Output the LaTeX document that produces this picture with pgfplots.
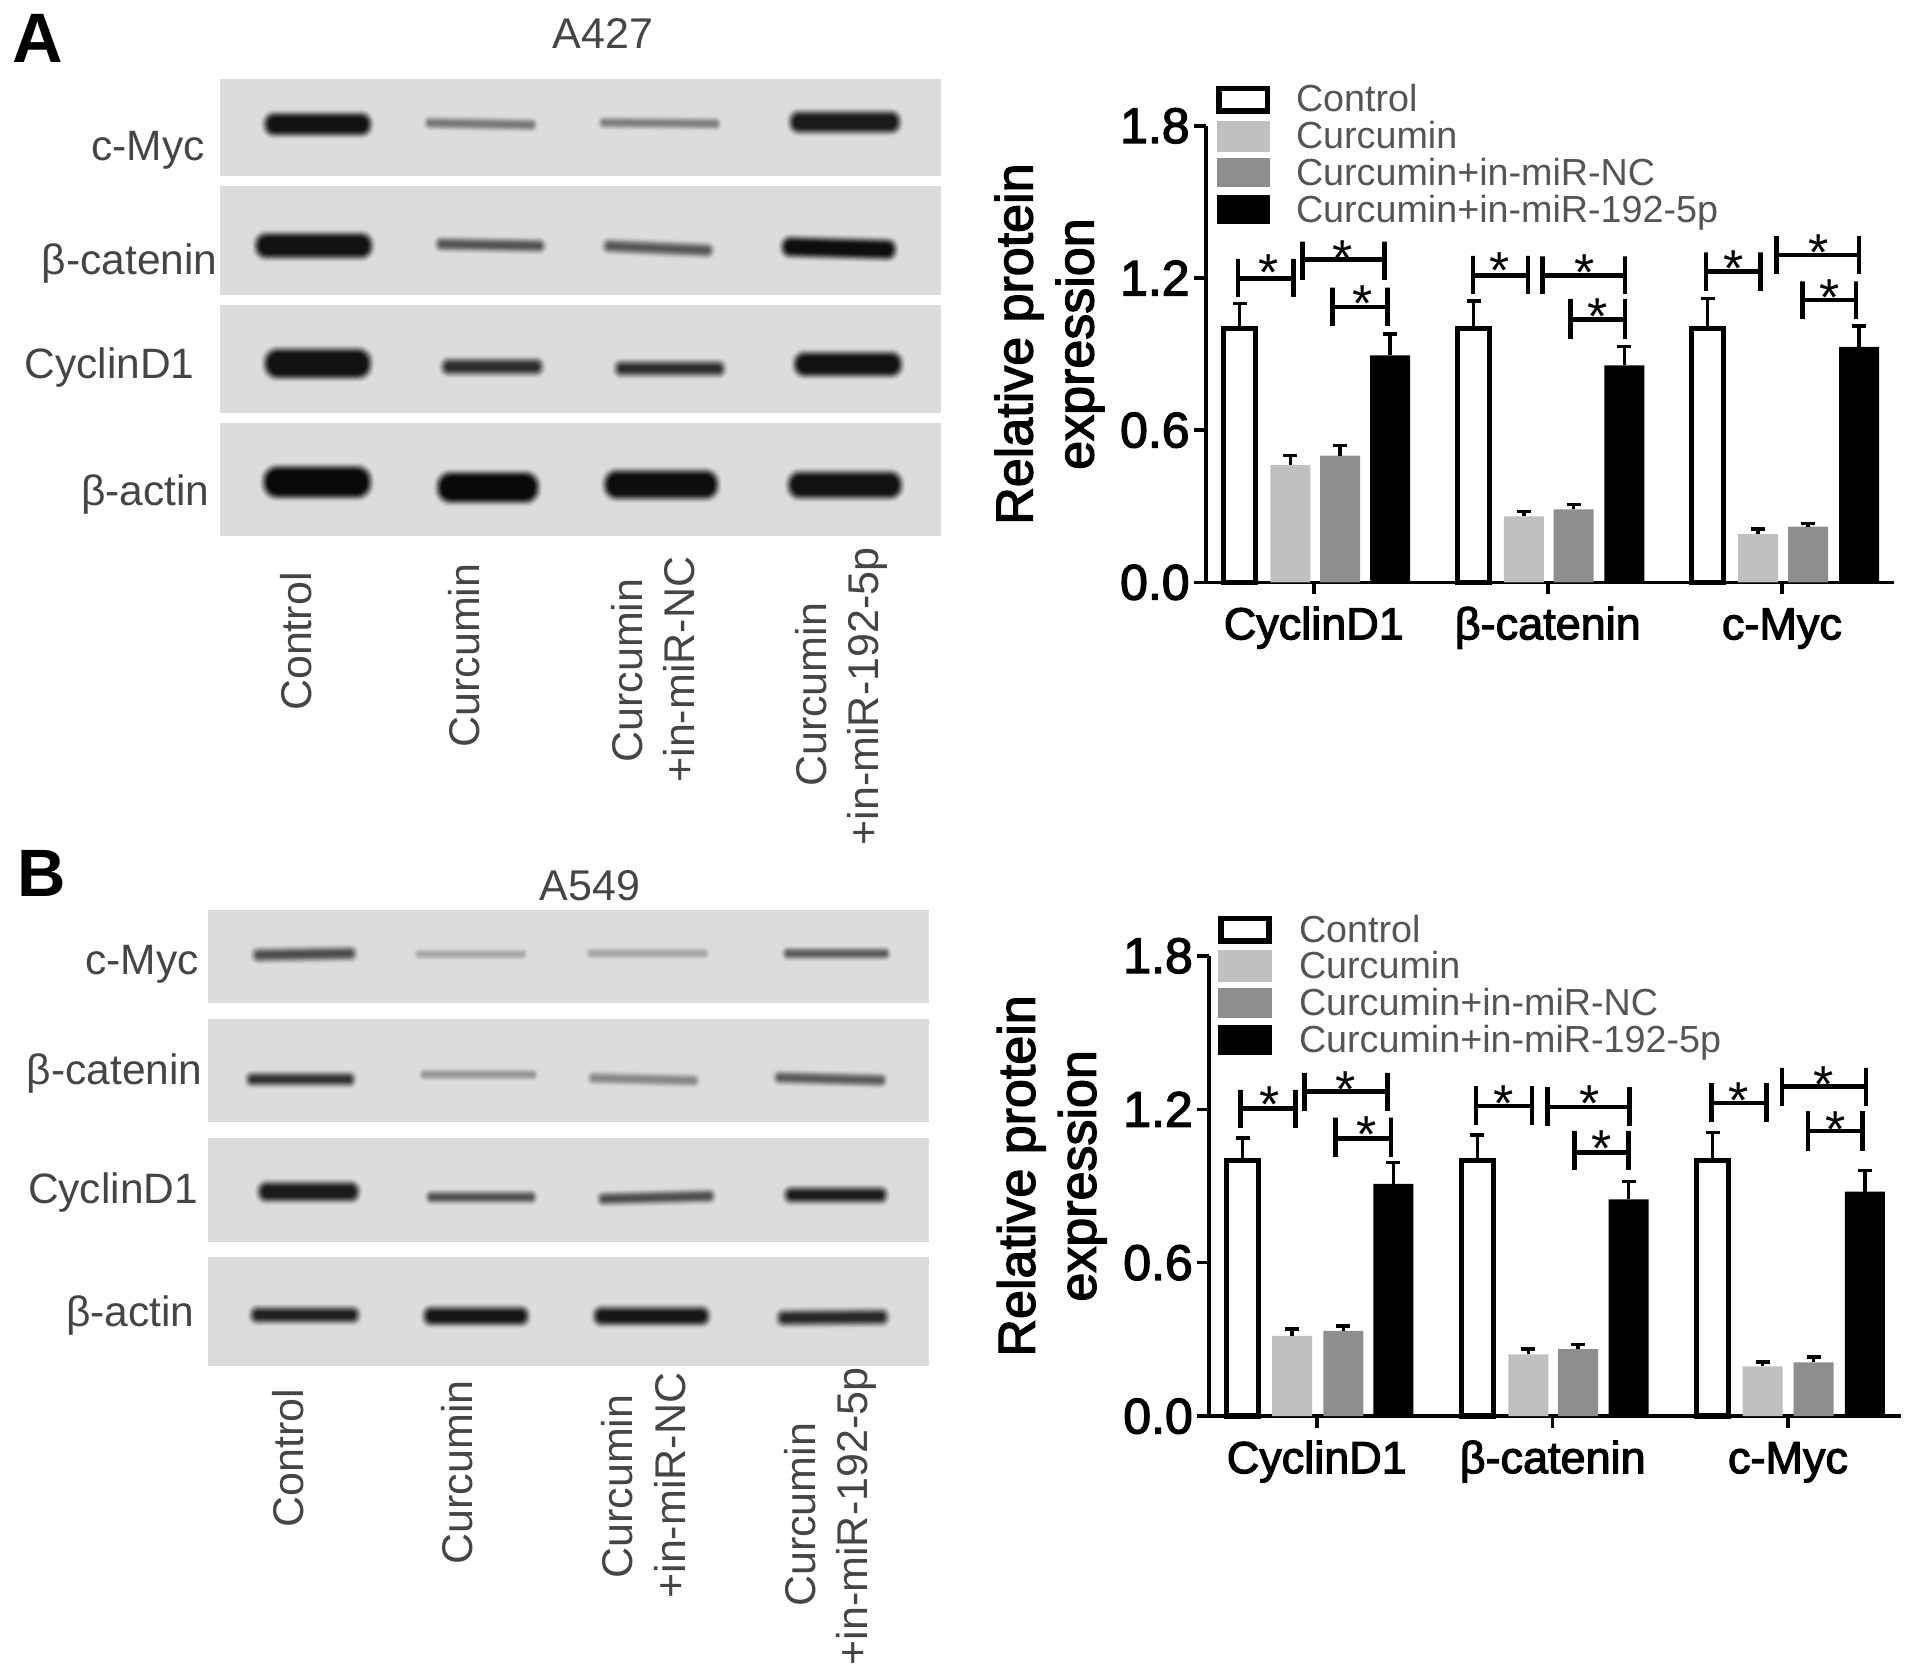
\documentclass[border=0pt]{standalone}
\usepackage{fontspec}
\setmainfont{Liberation Sans}
\newfontfamily\medf[FakeBold=2.5]{Liberation Sans}
\usepackage{pgfplots}
\pgfplotsset{compat=1.18}
\definecolor{bgg}{HTML}{DCDCDC}
\definecolor{lg}{HTML}{C0C0C0}
\definecolor{mg}{HTML}{8E8E8E}
\definecolor{tx}{HTML}{454545}
\definecolor{lt}{HTML}{555555}
\newcommand\px[1]{\fontsize{\fpeval{#1/2}}{\fpeval{#1/2*1.2}}\selectfont}
% blurred blot band: x1 x2 ycentre height darkness tilt (crop coordinates)
\newcommand\band[6]{%
  \pgfmathsetmacro\Xa{#1/\kx-4}\pgfmathsetmacro\Xb{#2/\kx+4}%
  \pgfmathsetmacro\Yc{\oy+#3/\ky}\pgfmathsetmacro\HH{#4/\ky*1.3+4}%
  \pgfmathsetmacro\Cx{(\Xa+\Xb)/2}%
  \pgfmathsetmacro\Bl{min(11,0.47*\HH)}%
  \foreach \i in {0,...,15}{%
    \pgfmathsetmacro\tt{\i/15}%
    \pgfmathsetmacro\ins{\tt*\Bl}%
    \pgfmathsetmacro\pc{#5*(3*\tt*\tt-2*\tt*\tt*\tt)}%
    \pgfmathsetmacro\rr{max(0.2,(\HH/2-\ins)*0.45)}%
    \fill[black!\pc!bgg, rounded corners=\rr pt, rotate around={-#6:(\Cx,\Yc)}]
      (\Xa+\ins,\Yc-\HH/2+\ins) rectangle (\Xb-\ins,\Yc+\HH/2-\ins);
  }%
}
\newcommand\blot[2]{\fill[bgg] (\Lx,#1) rectangle (\Rx,#2);}
\newcommand\rlab[3]{\node[rotate=90,anchor=base west,inner sep=0pt,text=tx,font=\px{43}] at (#1,#2+3) {#3};}
\newcommand\llab[3]{\node[anchor=base east,inner sep=0pt,text=tx,font=\px{42.5}] at (#1,#2+2) {#3};}
\newcommand\st[2]{\node[anchor=base,inner sep=0pt,font=\px{52}] at (#1,#2+30) {*};}
\newcommand\legrow[5]{\fill[#5] (#1,#3) rectangle (#2,#4);}
\newcommand\legtxt[3]{\node[anchor=base west,inner sep=0pt,text=lt,font=\px{37.7}] at (#1,#2+13.5) {#3};}
\newcommand\brk[5]{\addplot[black,line width=2.3pt,line join=miter] coordinates {(#1,#3)(#1,#5)(#1,#4)(#2,#4)(#2,#5)(#2,#3)};}
\pgfplotsset{
  relbars/.style={
    scale only axis, axis lines=left, axis line style={-,line width=1.75pt},
    ymin=0, ymax=1.8, ytick={0,0.6,1.2,1.8}, yticklabels={0.0,0.6,1.2,1.8},
    tick style={black,line width=1.75pt}, major tick length=6pt, tick align=outside,
    xtick pos=bottom, ytick pos=left, clip=false,
    xticklabels={CyclinD1,β-catenin,c-Myc},
    every x tick label/.append style={anchor=base,yshift=-22.5pt,inner sep=0pt,font=\medf\px{45}},
    every y tick label/.append style={font=\medf\px{50},inner sep=0pt,xshift=-2pt},
    ylabel={Relative protein\\expression},
    every axis y label/.append style={at={(axis description cs:-0.2275,0.522)},anchor=center,rotate=0,align=center,font=\medf\fontsize{26}{30.5}\selectfont},
    ebar/.style={forget plot,error bars/.cd,y dir=plus,y explicit,error mark=-,
      error bar style={black,line width=1.75pt},
      error mark options={black,line width=1.75pt,mark size=3.5pt,rotate=90}},
  },
  ctrl/.style={ybar,bar shift=0pt,bar width=16pt,draw=black,line width=2.75pt,fill=white},
  gbar/.style={ybar,bar shift=0pt,bar width=20pt,draw=none,fill=#1},
}
\begin{document}
\begin{tikzpicture}
\useasboundingbox (0,0) rectangle (956.5pt,837.5pt);
\fill[white] (0,0) rectangle (956.5pt,837.5pt);
\begin{scope}[x=0.5pt,y=-0.5pt,shift={(0pt,837.5pt)}]
% ---- panel A blots
\def\kx{1.6333}\def\ky{2.8}\def\oy{0}
\def\Lx{220.4}\def\Rx{941.2}
\blot{79.3}{175.7}\blot{186.4}{294.6}\blot{305.4}{413.2}\blot{423.2}{535.7}
\band{430}{608}{348}{62}{92}{0}\band{695}{875}{347}{30}{45}{1}\band{980}{1175}{345}{28}{42}{0.5}\band{1288}{1472}{342}{60}{88}{0}
\band{415}{610}{688}{68}{92}{0}\band{712}{890}{686}{36}{62}{1}\band{985}{1165}{695}{38}{60}{2.5}\band{1275}{1465}{695}{56}{94}{1.5}
\band{430}{608}{1018}{78}{92}{0}\band{720}{888}{1027}{46}{80}{0}\band{1003}{1185}{1032}{44}{80}{0}\band{1295}{1475}{1020}{66}{92}{0}
\band{428}{608}{1350}{82}{96}{0}\band{712}{882}{1365}{80}{96}{0}\band{985}{1175}{1357}{76}{94}{0}\band{1285}{1475}{1358}{72}{92}{0}
% ---- panel B blots
\def\oy{840}\def\Lx{208.2}\def\Rx{928.8}
\blot{910.4}{1003.2}\blot{1018.6}{1122.1}\blot{1138.2}{1241.8}\blot{1257.1}{1366}
\band{412}{582}{320}{38}{65}{-1}\band{680}{858}{320}{22}{24}{0}\band{960}{1155}{317}{24}{24}{0}\band{1280}{1452}{318}{30}{58}{0}
\band{402}{580}{670}{38}{78}{0}\band{688}{875}{657}{24}{32}{0}\band{962}{1140}{670}{30}{38}{1.5}\band{1265}{1447}{669}{34}{58}{1.5}
\band{420}{588}{985}{55}{88}{0}\band{697}{875}{1000}{32}{62}{0}\band{977}{1167}{1001}{35}{64}{-1.5}\band{1280}{1450}{994}{45}{88}{0}
\band{408}{588}{1330}{46}{86}{0}\band{690}{865}{1333}{52}{90}{0}\band{968}{1160}{1333}{52}{90}{0}\band{1268}{1452}{1337}{45}{82}{-0.5}
% ---- panel letters and titles
\node[anchor=base west,inner sep=0pt,font=\bfseries\px{70}] at (12,62.5) {A};
\node[anchor=base west,inner sep=0pt,font=\bfseries\px{67}] at (17,897) {B};
\node[anchor=base,inner sep=0pt,text=tx,font=\px{43}] at (603,49) {A427};
\node[anchor=base,inner sep=0pt,text=tx,font=\px{43}] at (590,901) {A549};
% ---- blot labels
\llab{205}{159}{c-Myc}\llab{218}{273}{β-catenin}\llab{195}{377}{CyclinD1}\llab{210}{503.6}{β-actin}
\llab{199}{972.9}{c-Myc}\llab{203}{1082.9}{β-catenin}\llab{198.5}{1201.4}{CyclinD1}\llab{195}{1325}{β-actin}
% ---- lane labels
\rlab{311.6}{708.3}{Control}\rlab{479.4}{745}{Curcumin}\rlab{642.4}{760}{Curcumin}\rlab{694}{780}{+in-miR-NC}\rlab{826.3}{784.3}{Curcumin}\rlab{878.3}{842.7}{+in-miR-192-5p}
\rlab{303.7}{1525}{Control}\rlab{472}{1561.7}{Curcumin}\rlab{632.4}{1576}{Curcumin}\rlab{685.4}{1596}{+in-miR-NC}\rlab{815.5}{1604.3}{Curcumin}\rlab{867.5}{1662.7}{+in-miR-192-5p}
% ---- legend A
\draw[black,line width=2.75pt] (1219.2,88.7) rectangle (1267.3,110.9);
\legrow{1216.5}{1270}{121}{152}{lg}\legrow{1216.5}{1270}{158}{187}{mg}\legrow{1216.5}{1270}{195}{224.5}{black}
\legtxt{1295.6}{98}{Control}\legtxt{1295.6}{135}{Curcumin}\legtxt{1295.6}{172}{Curcumin+in-miR-NC}\legtxt{1295.6}{209}{Curcumin+in-miR-192-5p}
% ---- legend B
\draw[black,line width=2.75pt] (1221.1,918.7) rectangle (1269.2,940.9);
\legrow{1218.4}{1271.9}{950.5}{981.8}{lg}\legrow{1218.4}{1271.9}{987.6}{1018.2}{mg}\legrow{1218.4}{1271.9}{1025}{1055}{black}
\legtxt{1298.6}{929.4}{Control}\legtxt{1298.6}{965.4}{Curcumin}\legtxt{1298.6}{1002}{Curcumin+in-miR-NC}\legtxt{1298.6}{1039}{Curcumin+in-miR-192-5p}
% ---- stars A
\st{1268.2}{261}\st{1343}{247}\st{1363}{291.5}
\st{1499.2}{259}\st{1584.3}{261}\st{1598}{305}
\st{1733.9}{257}\st{1818.3}{240.6}\st{1830}{286}
% ---- stars B
\st{1270}{1092.8}\st{1346}{1077.5}\st{1366.7}{1122.3}
\st{1503.5}{1091.7}\st{1589.2}{1091.7}\st{1602}{1136.8}
\st{1738.7}{1089}\st{1823.8}{1073}\st{1836}{1118}
\end{scope}
% ---- chart A
\begin{axis}[relbars, at={(603pt,546.3pt)}, anchor=south west, width=344pt, height=228.3pt,
  xmin=1206, xmax=1894, xtick={1313.8,1547.8,1781.9}]
\addplot[ctrl,ebar] table[y error index=2] {
1239.5 1.00 0.10
1473.7 1.00 0.11
1707.7 1.00 0.12
};
\addplot[gbar=lg,ebar] table[y error index=2] {
1290.4 0.463 0.038
1523.8 0.26 0.02
1757.9 0.19 0.02
};
\addplot[gbar=mg,ebar] table[y error index=2] {
1340 0.50 0.04
1573.7 0.288 0.02
1808 0.22 0.012
};
\addplot[gbar=black,ebar] table[y error index=2] {
1390 0.895 0.085
1624.4 0.855 0.075
1859 0.928 0.082
};
\brk{1237.8}{1293.7}{1.124}{1.199}{1.275}
\brk{1302.2}{1384.3}{1.192}{1.272}{1.343}
\brk{1332.6}{1387.4}{1.011}{1.086}{1.162}
\brk{1473.1}{1527.8}{1.136}{1.210}{1.287}
\brk{1542.4}{1625}{1.136}{1.210}{1.285}
\brk{1570.3}{1625}{0.961}{1.037}{1.118}
\brk{1705.9}{1760.6}{1.150}{1.225}{1.301}
\brk{1776.4}{1859.1}{1.215}{1.290}{1.365}
\brk{1802.5}{1856}{1.037}{1.113}{1.187}
\end{axis}
% ---- chart B
\begin{axis}[relbars, at={(604.6pt,129.4pt)}, anchor=south west, width=345.9pt, height=230.2pt,
  xmin=1209.2, xmax=1901, xtick={1316.8,1552.7,1788}]
\addplot[ctrl,ebar] table[y error index=2] {
1242.7 1.00 0.088
1477.3 1.00 0.10
1712.6 1.00 0.11
};
\addplot[gbar=lg,ebar] table[y error index=2] {
1292.2 0.314 0.027
1528.4 0.242 0.021
1762.7 0.195 0.017
};
\addplot[gbar=mg,ebar] table[y error index=2] {
1343.3 0.334 0.018
1578.2 0.262 0.018
1813.5 0.21 0.022
};
\addplot[gbar=black,ebar] table[y error index=2] {
1393.4 0.908 0.084
1628.7 0.848 0.069
1864.9 0.878 0.083
};
\brk{1240.2}{1295.6}{1.127}{1.202}{1.276}
\brk{1304.7}{1387.4}{1.193}{1.270}{1.342}
\brk{1335.7}{1391}{1.015}{1.085}{1.167}
\brk{1476.1}{1532}{1.137}{1.212}{1.290}
\brk{1547.2}{1629.3}{1.134}{1.209}{1.287}
\brk{1574.6}{1628.7}{0.961}{1.032}{1.115}
\brk{1711.4}{1766.7}{1.149}{1.224}{1.302}
\brk{1781.9}{1865.8}{1.212}{1.288}{1.362}
\brk{1808}{1862.7}{1.035}{1.115}{1.193}
\end{axis}
\end{tikzpicture}
\end{document}
